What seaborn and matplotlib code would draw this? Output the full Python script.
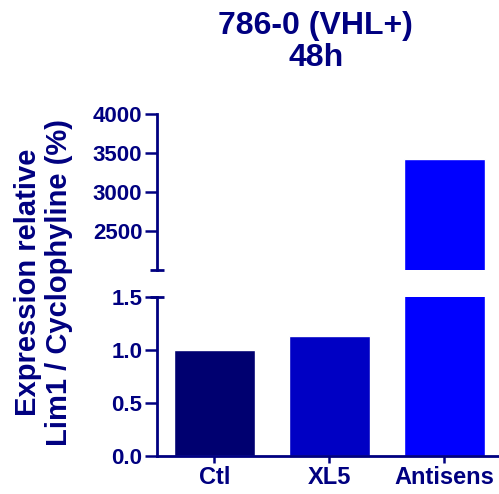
import numpy as np
import pandas as pd
import seaborn as sns
import matplotlib
matplotlib.use("Agg")
import matplotlib.pyplot as plt

# data
conditions = ["Ctl", "XL5", "Antisens"]
expression = [1.0, 1.13, 3420]
bar_colors = ["#000070", "#0000c4", "#0000ff"]
top_ticks = [2500, 3000, 3500, 4000]
bottom_ticks = [0.0, 0.5, 1.0, 1.5]

navy = "#000080"
sns.set_style("white")
plt.rcParams["font.family"] = ["Liberation Sans", "DejaVu Sans"]
plt.rcParams["font.weight"] = "bold"

df = pd.DataFrame({"cond": conditions, "val": expression})

fig = plt.figure(figsize=(4.99, 4.94), dpi=100)
ax_top = fig.add_axes([0.3146, 0.4534, 0.6914, 0.3158])
ax_bot = fig.add_axes([0.3146, 0.0769, 0.6914, 0.3219])

for ax in (ax_top, ax_bot):
    sns.barplot(x="cond", y="val", data=df, hue="cond", palette=bar_colors,
                width=0.7, legend=False, ax=ax, saturation=1)
    ax.set_xlim(-0.5, 2.5)
    ax.set_xlabel("")
    ax.set_ylabel("")
    for s in ["top", "right"]:
        ax.spines[s].set_visible(False)
    ax.spines["left"].set_color(navy)
    ax.spines["left"].set_linewidth(2)
    ax.tick_params(axis="y", direction="out", length=9, width=1.8, color=navy,
                   labelcolor=navy, labelsize=16, pad=1.5, left=True)

ax_top.set_ylim(2000, 4000)
ax_top.set_yticks(top_ticks)
ax_top.set_yticklabels([str(t) for t in top_ticks])
ax_top.spines["bottom"].set_visible(False)
ax_top.set_xticks([])

ax_bot.set_ylim(0, 1.5)
ax_bot.set_yticks(bottom_ticks)
ax_bot.set_yticklabels(["%.1f" % t for t in bottom_ticks])
ax_bot.spines["bottom"].set_color(navy)
ax_bot.spines["bottom"].set_linewidth(2)
ax_bot.tick_params(axis="x", direction="out", length=5, width=1.8, color=navy,
                   labelcolor=navy, labelsize=17, pad=2, bottom=True)

# caps at the axis break
ax_top.plot([-0.02, 0.02], [0, 0], transform=ax_top.transAxes, color=navy,
            lw=2, clip_on=False, solid_capstyle="butt")
ax_bot.plot([-0.02, 0.02], [1, 1], transform=ax_bot.transAxes, color=navy,
            lw=2, clip_on=False, solid_capstyle="butt")

fig.text(0.087, 0.429, "Expression relative\nLim1 / Cyclophyline (%)",
         rotation=90, ha="center", va="center", color=navy, fontsize=21,
         fontweight="bold", linespacing=1.1)
fig.text(0.633, 0.915, "786-0 (VHL+)\n48h", ha="center", va="center",
         color=navy, fontsize=23, fontweight="bold", linespacing=1.05)

fig.savefig("out.png", dpi=100)
